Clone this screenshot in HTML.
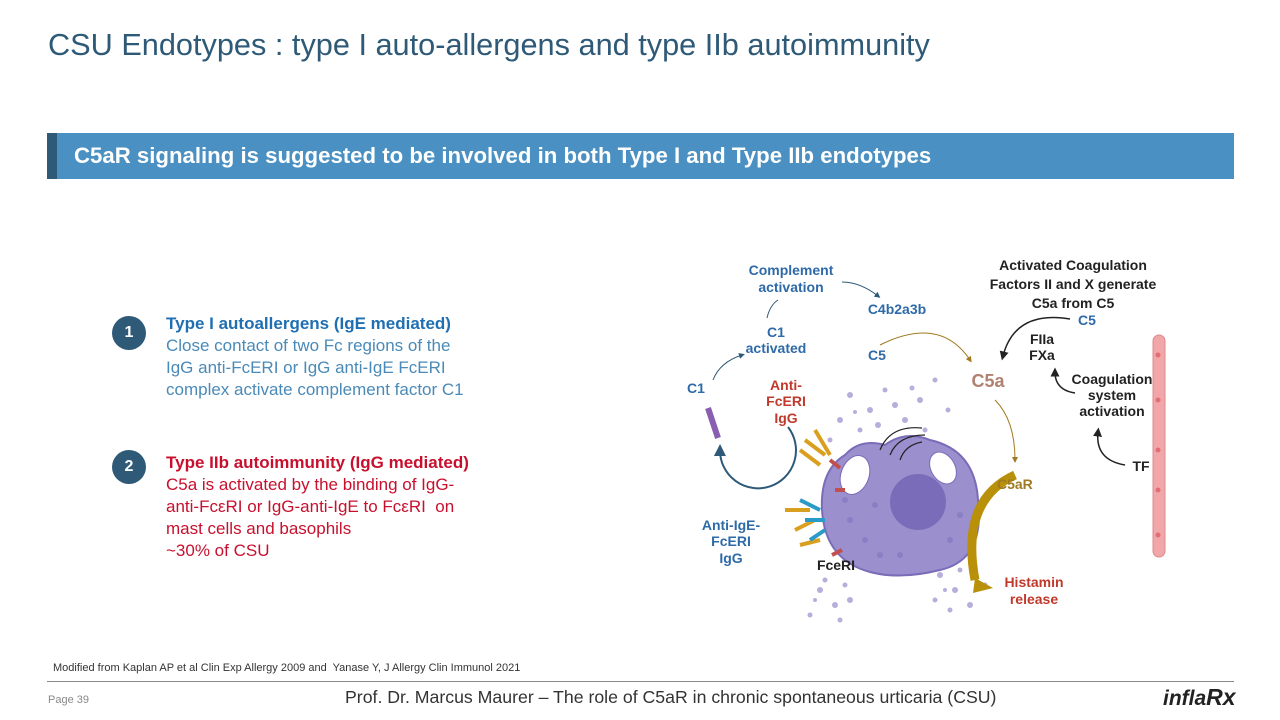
<!DOCTYPE html>
<html><head><meta charset="utf-8"><style>
body{margin:0;width:1280px;height:720px;background:#fff;position:relative;overflow:hidden;font-family:"Liberation Sans",sans-serif}
.a{position:absolute;white-space:nowrap}
</style></head><body>
<div class="a" style="left:48px;top:27px;font-size:30.7px;color:#2e5a78">CSU Endotypes : type I auto-allergens and type IIb autoimmunity</div>
<div class="a" style="left:47px;top:133px;width:1187px;height:46px;background:#4a90c2"></div>
<div class="a" style="left:47px;top:133px;width:10px;height:46px;background:#2e5a78"></div>
<div class="a" style="left:74px;top:143px;font-size:22.2px;font-weight:bold;color:#fff">C5aR signaling is suggested to be involved in both Type I and Type IIb endotypes</div>

<div class="a" style="left:112px;top:316px;width:34px;height:34px;border-radius:50%;background:#2e5a78;color:#fff;font-weight:bold;font-size:16px;text-align:center;line-height:34px">1</div>
<div class="a" style="left:166px;top:313px;font-size:17px;line-height:22px;color:#4a8ab8"><b style="color:#1f6fb2">Type I autoallergens (IgE mediated)</b><br>Close contact of two Fc regions of the<br>IgG anti-FcERI or IgG anti-IgE FcERI<br>complex activate complement factor C1</div>
<div class="a" style="left:112px;top:450px;width:34px;height:34px;border-radius:50%;background:#2e5a78;color:#fff;font-weight:bold;font-size:16px;text-align:center;line-height:34px">2</div>
<div class="a" style="left:166px;top:452px;font-size:17px;line-height:22px;color:#c8102e"><b>Type IIb autoimmunity (IgG mediated)</b><br>C5a is activated by the binding of IgG-<br>anti-FcεRI or IgG-anti-IgE to FcεRI&nbsp; on<br>mast cells and basophils<br>~30% of CSU</div>

<svg class="a" style="left:0;top:0" width="1280" height="720" font-family="Liberation Sans,sans-serif" font-weight="bold">
<defs><marker id="m" markerWidth="6" markerHeight="6" refX="3" refY="3" orient="auto"><path d="M0,0L6,3L0,6z" fill="#222"/></marker>
<marker id="mb" markerWidth="6" markerHeight="6" refX="3" refY="3" orient="auto"><path d="M0,0L6,3L0,6z" fill="#2e5a78"/></marker>
<marker id="mg" markerWidth="6" markerHeight="6" refX="3" refY="3" orient="auto"><path d="M0,0L6,3L0,6z" fill="#a07a20"/></marker></defs>
<g fill="#b7aedb">
<circle cx="850" cy="395" r="3"/><circle cx="870" cy="410" r="3"/><circle cx="840" cy="420" r="3"/><circle cx="885" cy="390" r="2.5"/><circle cx="905" cy="420" r="3"/><circle cx="935" cy="380" r="2.5"/><circle cx="920" cy="400" r="3"/><circle cx="860" cy="430" r="2.5"/>
<circle cx="895" cy="405" r="3"/><circle cx="912" cy="388" r="2.5"/><circle cx="878" cy="425" r="3"/><circle cx="830" cy="440" r="2.5"/><circle cx="925" cy="430" r="2.5"/><circle cx="948" cy="410" r="2.5"/><circle cx="855" cy="412" r="2"/>
<circle cx="820" cy="590" r="3"/><circle cx="835" cy="605" r="3"/><circle cx="810" cy="615" r="2.5"/><circle cx="850" cy="600" r="3"/><circle cx="840" cy="620" r="2.5"/><circle cx="825" cy="580" r="2.5"/><circle cx="845" cy="585" r="2.5"/><circle cx="815" cy="600" r="2"/>
<circle cx="940" cy="575" r="3"/><circle cx="955" cy="590" r="3"/><circle cx="935" cy="600" r="2.5"/><circle cx="970" cy="605" r="3"/><circle cx="950" cy="610" r="2.5"/><circle cx="985" cy="585" r="2.5"/><circle cx="960" cy="570" r="2.5"/><circle cx="945" cy="590" r="2"/>
</g>
<path d="M845,455 Q860,438 885,445 Q905,430 930,440 Q975,450 978,500 Q985,560 940,570 Q900,580 870,572 Q825,560 822,510 Q820,470 845,455z" fill="#9b8fcd" stroke="#7a6cb8" stroke-width="2"/>
<g fill="#8a7ec4"><circle cx="850" cy="520" r="3"/><circle cx="865" cy="540" r="3"/><circle cx="880" cy="555" r="3"/><circle cx="950" cy="540" r="3"/><circle cx="960" cy="515" r="3"/><circle cx="900" cy="555" r="3"/><circle cx="845" cy="500" r="3"/><circle cx="875" cy="505" r="3"/></g>
<circle cx="918" cy="502" r="28" fill="#7a6cb8"/>
<ellipse cx="855" cy="475" rx="14" ry="20" fill="#fff" stroke="#7a6cb8" transform="rotate(20 855 475)"/>
<ellipse cx="943" cy="468" rx="12" ry="17" fill="#fff" stroke="#7a6cb8" transform="rotate(-30 943 468)"/>
<g stroke="#d9a020" stroke-width="4" fill="none"><path d="M800,450l20,15M805,440l20,15M815,430l15,25M785,510l25,0M795,530l20,-10M800,545l20,-5"/></g>
<g stroke="#2a9ac8" stroke-width="4" fill="none"><path d="M800,500l20,10M805,520l20,0M810,540l15,-10"/></g>
<g stroke="#c0504d" stroke-width="4" fill="none"><path d="M830,460l10,8M835,490l10,0M832,555l10,-5"/></g>
<path d="M708,408l10,30" stroke="#8a5fb0" stroke-width="6"/>
<path d="M788,427 A38 38 0 1 1 720,450" fill="none" stroke="#2e5a78" stroke-width="2" marker-end="url(#mb)"/>
<path d="M713,380 Q720,362 742,355" fill="none" stroke="#2e5a78" marker-end="url(#mb)"/>
<path d="M767,318 Q770,305 778,300" fill="none" stroke="#2e5a78"/>
<path d="M842,282 Q860,282 878,296" fill="none" stroke="#2e5a78" marker-end="url(#mb)"/>
<path d="M880,345 Q940,315 970,360" fill="none" stroke="#a07a20" marker-end="url(#mg)"/>
<path d="M995,400 Q1015,420 1015,460" fill="none" stroke="#a07a20" marker-end="url(#mg)"/>
<path d="M1015,475 Q960,500 975,580" fill="none" stroke="#b8900a" stroke-width="9"/>
<path d="M975,578l18,10-20,5z" fill="#b8900a"/>
<path d="M1070,319 Q1015,310 1003,356" fill="none" stroke="#222" stroke-width="1.5" marker-end="url(#m)"/>
<path d="M1075,393 Q1055,390 1055,372" fill="none" stroke="#222" stroke-width="1.5" marker-end="url(#m)"/>
<path d="M1125,465 Q1095,460 1098,432" fill="none" stroke="#222" stroke-width="1.5" marker-end="url(#m)"/>
<path d="M880,450 Q890,425 922,428M890,455 Q898,435 925,435M900,460 Q905,445 922,442" fill="none" stroke="#222" stroke-width="1.2"/>
<g fill="#f1a7aa" stroke="#d88"><rect x="1153" y="335" width="12" height="222" rx="6"/></g>
<g fill="#e07075"><circle cx="1158" cy="355" r="2.5"/><circle cx="1158" cy="400" r="2.5"/><circle cx="1158" cy="450" r="2.5"/><circle cx="1158" cy="490" r="2.5"/><circle cx="1158" cy="535" r="2.5"/></g>
<g font-size="14" fill="#2e6aa8" text-anchor="middle">
<text x="791" y="275">Complement</text><text x="791" y="292">activation</text>
<text x="897" y="314">C4b2a3b</text>
<text x="776" y="337">C1</text><text x="776" y="353">activated</text>
<text x="877" y="360">C5</text><text x="696" y="393">C1</text>
<text x="1087" y="325">C5</text>
<text x="731" y="530">Anti-IgE-</text><text x="731" y="546">FcERI</text><text x="731" y="563">IgG</text>
</g>
<g font-size="14" fill="#c0392b" text-anchor="middle"><text x="786" y="390">Anti-</text><text x="786" y="406">FcERI</text><text x="786" y="423">IgG</text>
<text x="1034" y="587">Histamin</text><text x="1034" y="604">release</text></g>
<text x="988" y="387" font-size="18" fill="#b08070" text-anchor="middle">C5a</text>
<text x="997" y="489" font-size="14" fill="#a07a20">C5aR</text>
<g font-size="14" fill="#222" text-anchor="middle">
<text x="1073" y="270">Activated Coagulation</text><text x="1073" y="289">Factors II and X generate</text><text x="1073" y="308">C5a from C5</text>
<text x="1042" y="344">FIIa</text><text x="1042" y="360">FXa</text>
<text x="1112" y="384">Coagulation</text><text x="1112" y="400">system</text><text x="1112" y="416">activation</text>
<text x="1141" y="471">TF</text><text x="836" y="570">FceRI</text></g>
</svg>

<div class="a" style="left:53px;top:662px;font-size:11px;color:#333">Modified from Kaplan AP et al Clin Exp Allergy 2009 and&nbsp; Yanase Y, J Allergy Clin Immunol 2021</div>
<div class="a" style="left:47px;top:681px;width:1187px;height:1px;background:#888"></div>
<div class="a" style="left:48px;top:694px;font-size:11px;color:#888">Page 39</div>
<div class="a" style="left:345px;top:687px;font-size:17.7px;color:#333">Prof. Dr. Marcus Maurer – The role of C5aR in chronic spontaneous urticaria (CSU)</div>
<div class="a" style="left:1163px;top:684px;font-size:21px;font-weight:bold;font-style:italic;color:#222">infla<span style="font-size:23px">Rx</span></div>
</body></html>
